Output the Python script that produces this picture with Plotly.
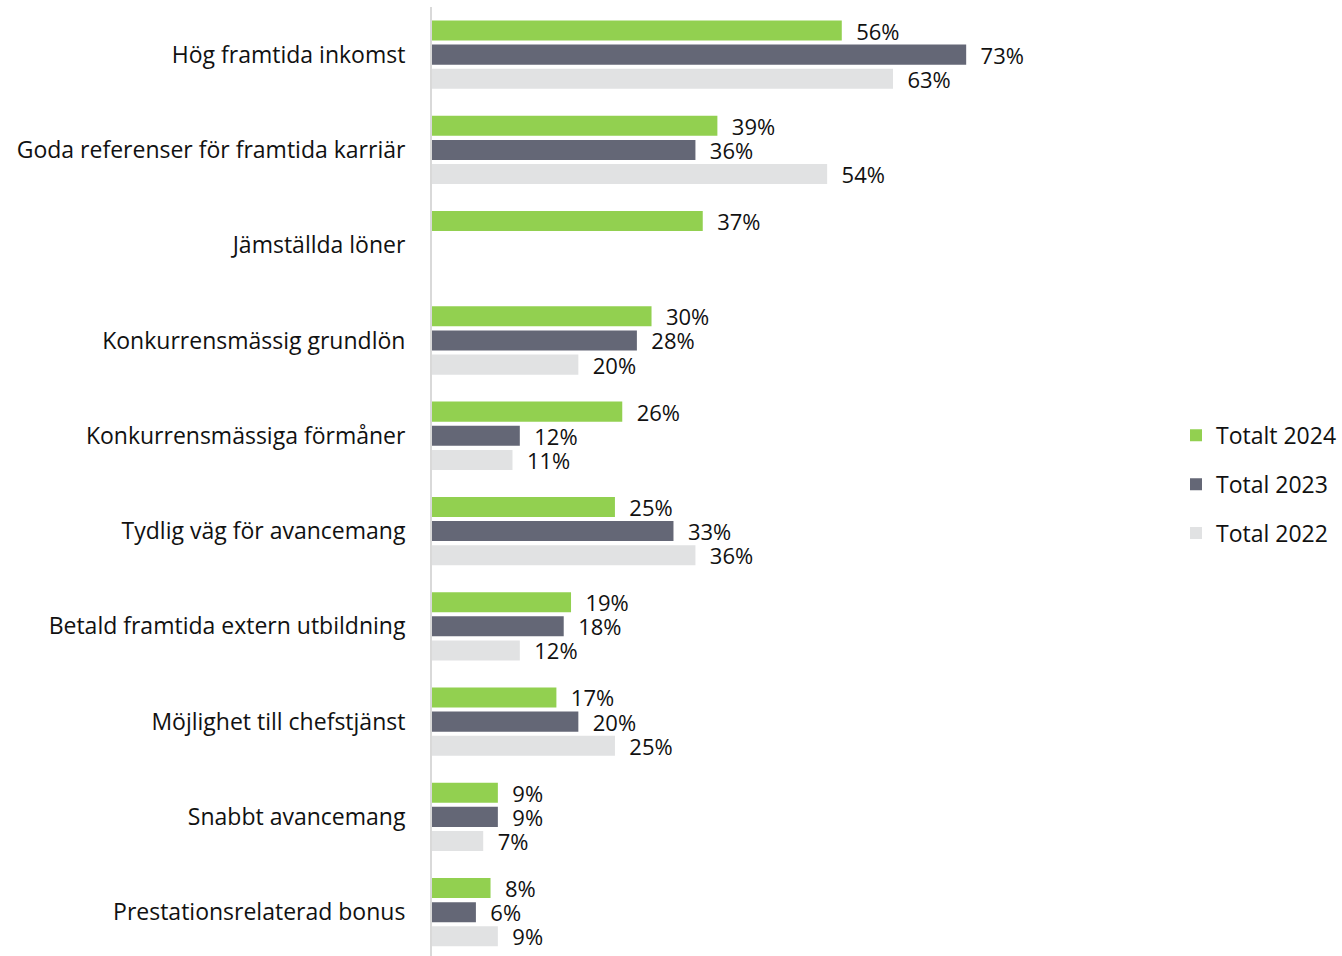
import plotly.graph_objects as go

categories = [
    "Hög framtida inkomst",
    "Goda referenser för framtida karriär",
    "Jämställda löner",
    "Konkurrensmässig grundlön",
    "Konkurrensmässiga förmåner",
    "Tydlig väg för avancemang",
    "Betald framtida extern utbildning",
    "Möjlighet till chefstjänst",
    "Snabbt avancemang",
    "Prestationsrelaterad bonus",
]
totalt_2024 = [56, 39, 37, 30, 26, 25, 19, 17, 9, 8]
total_2023 = [73, 36, None, 28, 12, 33, 18, 20, 9, 6]
total_2022 = [63, 54, None, 20, 11, 36, 12, 25, 7, 9]

series = [
    ("Totalt 2024", totalt_2024, "#92D050"),
    ("Total 2023", total_2023, "#646776"),
    ("Total 2022", total_2022, "#E1E2E3"),
]

FONT = "Open Sans"
FS = 23
TXT = "#111111"
fig = go.Figure()
for i, (name, vals, color) in enumerate(series):
    fig.add_trace(go.Bar(
        name=name,
        y=categories,
        x=vals,
        orientation="h",
        marker=dict(color=color, line=dict(width=0)),
        text=[("  %d%%" % v) if v is not None else "" for v in vals],
        textposition="outside",
        constraintext="none",
        cliponaxis=False,
        textfont=dict(family=FONT, size=22, color=TXT),
        legendgroup=name,
        hoverinfo="skip",
    ))

fig.update_layout(
    width=1342, height=956,
    margin=dict(l=432, r=192, t=7, b=0),
    paper_bgcolor="white", plot_bgcolor="white",
    barmode="group",
    bargap=0.24,
    bargroupgap=0.17,
    font=dict(family=FONT, size=FS, color=TXT),
    legend=dict(
        x=1.045, xanchor="left", y=0.497, yanchor="middle",
        traceorder="grouped", tracegroupgap=16,
        font=dict(family=FONT, size=FS, color=TXT),
        itemwidth=30,
    ),
    xaxis=dict(range=[0, 97.3], showgrid=False, zeroline=False,
               showticklabels=False, showline=False, fixedrange=True),
    yaxis=dict(range=[9.46, -0.5], showgrid=False, zeroline=False,
               showline=True, linecolor="#D9D9D9", linewidth=2,
               ticks="", ticklabelstandoff=20, fixedrange=True,
               tickfont=dict(family=FONT, size=FS, color=TXT)),
)

fig.write_html("out.html", config={"displayModeBar": False},
               post_script="document.body.style.margin='0px';")
